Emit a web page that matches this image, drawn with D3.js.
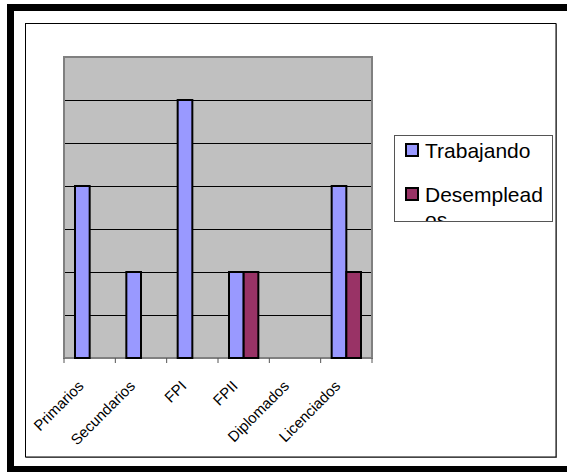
<!DOCTYPE html>
<html>
<head>
<meta charset="utf-8">
<script src="https://cdn.jsdelivr.net/npm/d3@7"></script>
<style>
  html, body { margin: 0; padding: 0; background: #fff; overflow: hidden; }
  svg { display: block; }
  text { font-family: "Liberation Sans", Arial, sans-serif; }
</style>
</head>
<body>
<svg id="chart" width="567" height="472"></svg>
<script>
const categories = ["Primarios", "Secundarios", "FPI", "FPII", "Diplomados", "Licenciados"];
const seriesNames = ["Trabajando", "Desempleados"];
const trabajando = [4, 2, 6, 2, 0, 4];
const desempleados = [0, 0, 0, 2, 0, 2];
const yMax = 7;
const colors = ["#9999FF", "#993366"];

const svg = d3.select("#chart");

// outer thick frame (clipped at right/bottom)
svg.append("rect").attr("x", 10.5).attr("y", 7.5).attr("width", 600).attr("height", 462)
  .attr("fill", "none").attr("stroke", "#000").attr("stroke-width", 7);

// inner frame with shadow
svg.append("rect").attr("x", 26).attr("y", 24).attr("width", 531).attr("height", 434).attr("fill", "#888");
svg.append("rect").attr("x", 25.5).attr("y", 23.5).attr("width", 530.5).attr("height", 433.5)
  .attr("fill", "#fff").attr("stroke", "#000").attr("stroke-width", 1);

const plot = { left: 64, top: 57, right: 372, bottom: 358 };

const x0 = d3.scaleBand().domain(categories).range([plot.left, plot.right]).paddingInner(0).paddingOuter(0);
const x1 = d3.scaleBand().domain(seriesNames).range([0, x0.bandwidth()]).paddingInner(0).paddingOuter(0.75);
const y = d3.scaleLinear().domain([0, yMax]).range([plot.bottom, plot.top]);

// plot background
svg.append("rect").attr("x", plot.left).attr("y", plot.top)
  .attr("width", plot.right - plot.left).attr("height", plot.bottom - plot.top)
  .attr("fill", "#C0C0C0");

// gridlines
svg.append("g").selectAll("line").data(y.ticks(yMax).filter(d => d > 0 && d < yMax)).join("line")
  .attr("x1", plot.left).attr("x2", plot.right)
  .attr("y1", d => Math.round(y(d)) + 0.5).attr("y2", d => Math.round(y(d)) + 0.5)
  .attr("stroke", "#000").attr("stroke-width", 1);

// plot border
svg.append("rect").attr("x", plot.left).attr("y", plot.top)
  .attr("width", plot.right - plot.left).attr("height", plot.bottom - plot.top)
  .attr("fill", "none").attr("stroke", "#808080").attr("stroke-width", 2);

// bars
const data = categories.map((c, i) => ({ cat: c, vals: [trabajando[i], desempleados[i]] }));
const g = svg.append("g");
data.forEach(d => {
  d.vals.forEach((v, si) => {
    if (v > 0) {
      g.append("rect")
        .attr("x", x0(d.cat) + x1(seriesNames[si]))
        .attr("y", y(v))
        .attr("width", x1.bandwidth())
        .attr("height", y(0) - y(v))
        .attr("fill", colors[si])
        .attr("stroke", "#000").attr("stroke-width", 2);
    }
  });
});

// x axis ticks (category boundaries)
const bounds = categories.map(c => x0(c)).concat([plot.right]);
svg.append("g").selectAll("line").data(bounds).join("line")
  .attr("x1", d => d).attr("x2", d => d)
  .attr("y1", plot.bottom).attr("y2", plot.bottom + 5)
  .attr("stroke", "#555").attr("stroke-width", 1);

// x labels rotated
svg.append("g").selectAll("text").data(categories).join("text")
  .attr("transform", d => `translate(${x0(d) + x0.bandwidth() / 2 - 5},${387}) rotate(-45)`)
  .attr("text-anchor", "end")
  .attr("font-size", 15)
  .attr("fill", "#000")
  .text(d => d);

// legend
const lg = { x: 394, y: 135, w: 158, h: 86 };
svg.append("defs").append("clipPath").attr("id", "lgclip")
  .append("rect").attr("x", lg.x).attr("y", lg.y).attr("width", lg.w).attr("height", lg.h);
svg.append("rect").attr("x", lg.x + 0.5).attr("y", lg.y + 0.5).attr("width", lg.w).attr("height", lg.h)
  .attr("fill", "#fff").attr("stroke", "#555").attr("stroke-width", 1);
const lgi = svg.append("g").attr("clip-path", "url(#lgclip)");
const legendLines = [["Trabajando"], ["Desemplead", "os"]];
seriesNames.forEach((s, i) => {
  const ry = 143 + i * 44;
  lgi.append("rect").attr("x", 406).attr("y", ry + 1).attr("width", 12).attr("height", 12)
    .attr("fill", colors[i]).attr("stroke", "#000").attr("stroke-width", 2);
  legendLines[i].forEach((t, j) => {
    lgi.append("text").attr("x", 425).attr("y", ry + 14.5 + j * 25)
      .attr("font-size", 21).attr("fill", "#000").text(t);
  });
});
</script>
</body>
</html>
